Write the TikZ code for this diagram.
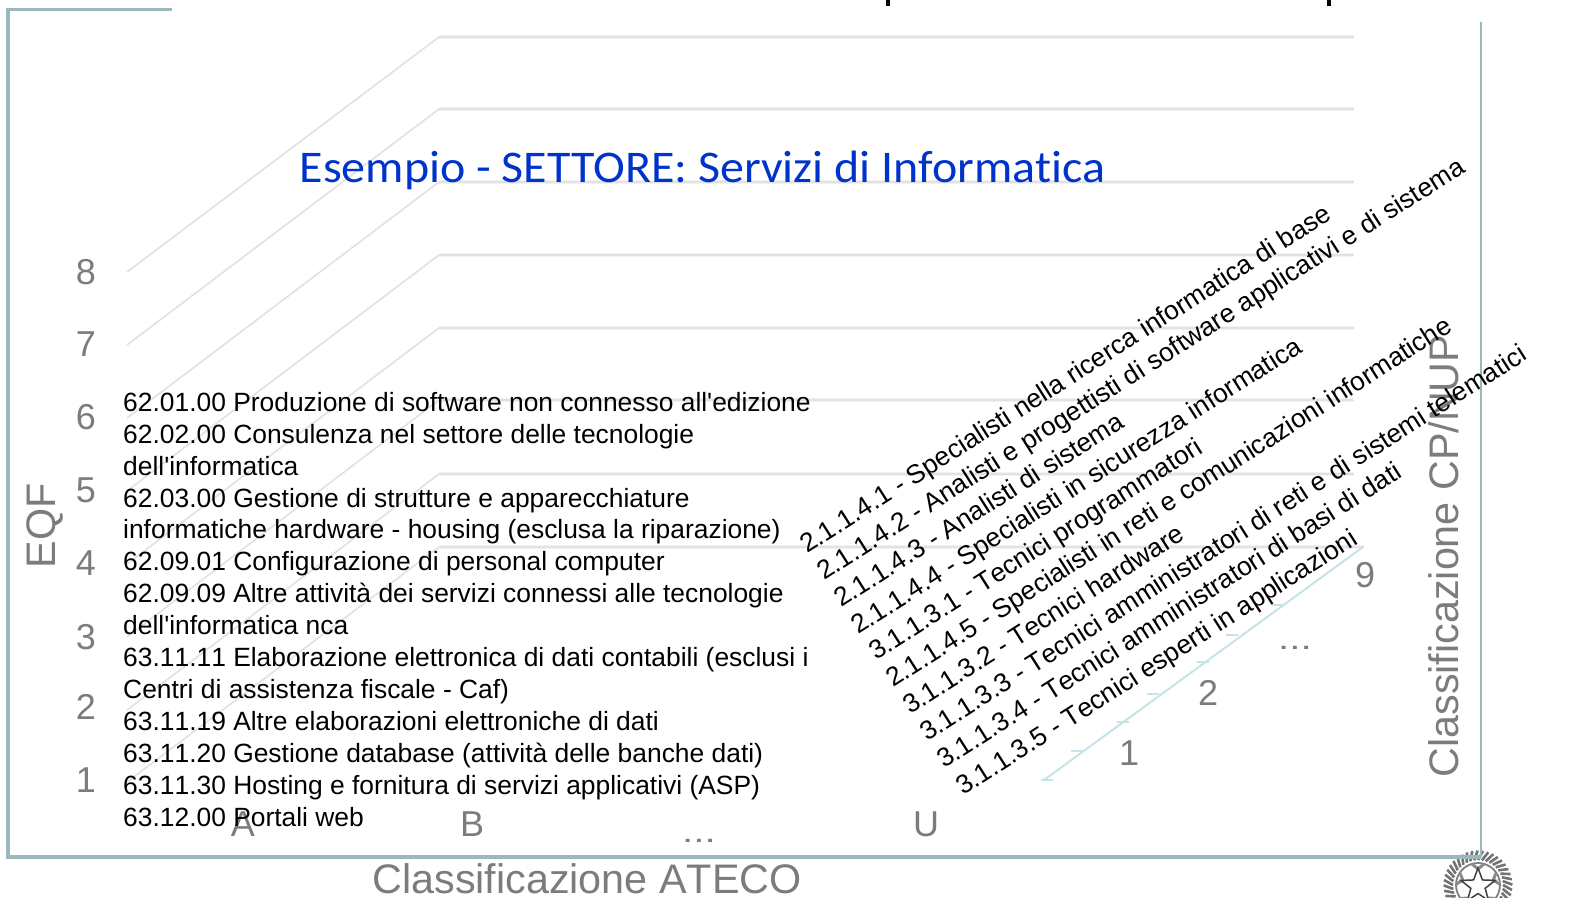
\documentclass[tikz,border=0pt]{standalone}
\usepackage{fontspec}
\setmainfont[Ligatures=TeXOff,Kerning=Off]{Liberation Sans}
\newfontfamily\titlefont[Ligatures=NoCommon]{Carlito}
\usetikzlibrary{shapes.geometric}
\definecolor{framec}{HTML}{9DB8BC}
\definecolor{gridc}{HTML}{E2E2E2}
\definecolor{gridsoft}{HTML}{F2F2F2}
\definecolor{axisc}{HTML}{C4E4E8}
\definecolor{graytxt}{HTML}{7C7C7C}
\definecolor{titleblue}{HTML}{0033CC}
\tikzset{
  x=1pt,y=-1pt,
  frameline/.style={draw=framec,line width=3.6pt},
  gridh/.style={draw=gridc,line width=2pt},
  gridhsoft/.style={draw=gridsoft,line width=4.5pt},
  gridd/.style={draw=gridc,line width=1.7pt},
  tick/.style={draw=axisc,line width=1.3pt},
  graylab/.style={text=graytxt,font=\fontsize{36}{36}\selectfont,inner sep=0pt},
  dotslab/.style={text=graytxt,font=\fontsize{30}{30}\selectfont,inner sep=0pt},
  biglab/.style={text=graytxt,font=\fontsize{41.3}{41.3}\selectfont,inner sep=0pt},
  rotlabel/.style={anchor=base west,inner sep=0pt,transform shape,text=black,font=\fontsize{26.4}{26.4}\selectfont},
}
\newcommand{\rotlab}[4]{\node[rotlabel,cm={0.8434,0.5373,-0.5373,0.8434,(#2,#3)}] (#1) at (0,0) {#4};}
\begin{document}
\begin{tikzpicture}
\useasboundingbox (0,0) rectangle (1587,897);
% grid
\foreach \a/\b in {272/37,345/109,418/182,491/255,564/328,637/400,710/474,782/547}{
  \draw[gridd] (127,\a) -- (439,\b);
}
\foreach \b in {37,109,182,255,328,400,474}{
  \draw[gridhsoft] (439,\b) -- (1354,\b);
  \draw[gridh] (439,\b) -- (1354,\b);
}
\draw[gridhsoft] (439,547) -- (1364,547);
\draw[gridh] (439,547) -- (1364,547);
% emblem
\begin{scope}[shift={(1478,885)}]
  \foreach \ang in {0,9,...,351}{
    \draw[line width=2.6pt,draw=black!55,rotate=\ang] (0,-25) -- (5,-34);
  }
  \fill[white] (0,0) circle [radius=23.5];
  \draw[line width=1.8pt,draw=black!50] (0,0) circle [radius=22];
  \foreach \ang in {0,72,...,288}{
    \draw[line width=3pt,draw=black!45,rotate=\ang] (-6,-21) -- (0,-16) -- (6,-21);
  }
  \node[star,star points=5,star point ratio=2.4,minimum size=36pt,inner sep=0pt,draw=black!75,line width=1.5pt,fill=white] (star) at (0,1) {};
\end{scope}
% frame
\draw[frameline] (172,9.5) -- (8,9.5) -- (8,857) -- (1481,857);
\draw[frameline,line width=2.4pt] (1481,857) -- (1481,22);
% cut-off descenders at the top
\draw[line width=3.5pt] (888,0) -- (888,6);
\draw[line width=3.5pt] (1329,0) -- (1329,6);
% front axis of the depth scale
\draw[draw=axisc,line width=2pt] (1044,780) -- (1363,547);
\foreach \tx/\ty in {1047/780,1077/751,1123/722,1153/694,1203/662,1232/635,1278/605}{
  \draw[tick] (\tx-6,\ty) -- (\tx+6,\ty);
}
% axis labels
\foreach \n/\yy in {8/272,7/344,6/417,5/490,4/563,3/637,2/707,1/780}{
  \node[graylab] (e\n) at (86,\yy) {\n};
}
\node[graylab] (colA) at (243,824) {A};
\node[graylab] (colB) at (472,824) {B};
\node[dotslab] (colD) at (699,841) {\scalebox{1.35}[1]{...}};
\node[graylab] (colU) at (926,824) {U};
\node[graylab] (d1) at (1129,753) {1};
\node[graylab] (d2) at (1208,693) {2};
\node[dotslab] (d3) at (1295,648) {\scalebox{1.35}[1]{...}};
\node[graylab] (d9) at (1365,575) {9};
\node[biglab] (ateco) at (587,879) {Classificazione ATECO};
\node[biglab,rotate=90] (eqf) at (45,526) {EQF};
\node[biglab,rotate=90] (cpnup) at (1444,556) {Classificazione CP/NUP};
% title
\node[text=titleblue,font=\titlefont\fontsize{44}{44}\selectfont,anchor=base west,inner sep=0pt] (title) at (299.5,182) {\scalebox{1.09}[1.03]{Esempio - SETTORE: Servizi di Informatica}};
% ATECO list
\node[anchor=north west,inner sep=0pt,align=left,font=\fontsize{26.4}{31.9}\selectfont] (list) at (123,392) {62.01.00 Produzione di software non connesso all'edizione\\
62.02.00 Consulenza nel settore delle tecnologie\\
dell'informatica\\
62.03.00 Gestione di strutture e apparecchiature\\
informatiche hardware - housing (esclusa la riparazione)\\
62.09.01 Configurazione di personal computer\\
62.09.09 Altre attività dei servizi connessi alle tecnologie\\
dell'informatica nca\\
63.11.11 Elaborazione elettronica di dati contabili (esclusi i\\
Centri di assistenza fiscale - Caf)\\
63.11.19 Altre elaborazioni elettroniche di dati\\
63.11.20 Gestione database (attività delle banche dati)\\
63.11.30 Hosting e fornitura di servizi applicativi (ASP)\\
63.12.00 Portali web};
% rotated list
\rotlab{r1}{807}{554}{2.1.1.4.1 - Specialisti nella ricerca informatica di base}
\rotlab{r2}{824}{581}{2.1.1.4.2 - Analisti e progettisti di software applicativi e di sistema}
\rotlab{r3}{841}{608}{2.1.1.4.3 - Analisti di sistema}
\rotlab{r4}{858}{635}{2.1.1.4.4 - Specialisti in sicurezza informatica}
\rotlab{r5}{876}{661}{3.1.1.3.1 - Tecnici programmatori}
\rotlab{r6}{893}{688}{2.1.1.4.5 - Specialisti in reti e comunicazioni informatiche}
\rotlab{r7}{910}{715}{3.1.1.3.2 - Tecnici hardware}
\rotlab{r8}{927}{742}{3.1.1.3.3 - Tecnici amministratori di reti e di sistemi telematici}
\rotlab{r9}{944}{769}{3.1.1.3.4 - Tecnici amministratori di basi di dati}
\rotlab{r10}{963}{796}{3.1.1.3.5 - Tecnici esperti in applicazioni}
\end{tikzpicture}
\end{document}
